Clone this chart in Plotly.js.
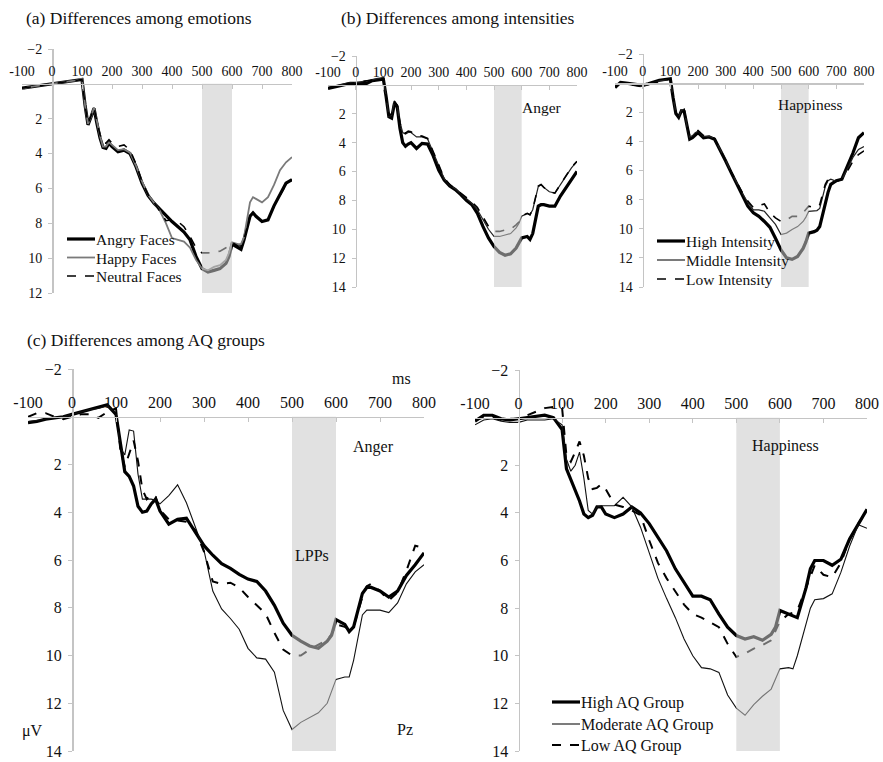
<!DOCTYPE html>
<html>
<head>
<meta charset="utf-8">
<script src="https://cdn.plot.ly/plotly-3.0.1.min.js"></script>
<style>html,body{margin:0;padding:0;background:#fff}#chart{width:883px;height:762px}</style>
</head>
<body>
<div id="chart"></div>
<script>
// ---------------- DATA ----------------
// time points (ms)
const timeMs = [-100,-80,-60,-40,-20,0,20,40,60,80,100,
  110,120,130,140,150,160,170,180,190,200,
  220,240,260,280,300,320,340,360,380,400,420,440,460,480,500,520,540,560,580,
  590,600,620,630,640,660,670,680,700,720,740,760,780,800];

const xTickVals = [-100,0,100,200,300,400,500,600,700,800];
const xTickText = ['-100','0','100','200','300','400','500','600','700','800'];
const yTickValsA = [-2,2,4,6,8,10,12];
const yTickValsB = [-2,2,4,6,8,10,12,14];
const lppWindow = [500, 600];

// (a) Differences among emotions
const emoNames = ['Angry Faces','Happy Faces','Neutral Faces'];
const angryFaces = [0.25,0.2,0.15,0.1,0.05,0.0,-0.05,-0.1,-0.15,-0.2,-0.25,
  1.2,2.35,1.9,1.4,2.3,3.1,3.65,3.7,3.4,3.6,
  3.9,3.8,4.0,4.75,5.7,6.4,6.85,7.2,7.6,7.9,8.2,8.5,8.95,9.9,10.6,10.8,10.7,10.6,10.3,
  9.9,9.2,9.4,9.5,8.95,7.6,7.4,7.6,7.9,7.8,7.0,6.3,5.7,5.5];
const happyFaces = [0.3,0.2,0.15,0.1,0.05,0.0,-0.05,-0.1,-0.15,-0.2,-0.3,
  1.2,2.3,1.9,1.35,2.2,3.0,3.6,3.6,3.35,3.5,
  3.8,3.75,3.95,4.7,5.6,6.35,6.8,7.3,8.0,8.85,8.95,9.05,9.4,10.1,10.6,10.7,10.5,10.4,10.1,
  9.7,9.1,9.2,9.2,8.8,6.8,6.5,6.6,6.8,6.5,5.8,4.95,4.5,4.2];
const neutralFaces = [0.25,0.2,0.15,0.1,0.05,0.0,-0.05,-0.1,-0.15,-0.2,-0.25,
  1.2,2.3,1.85,1.35,2.2,2.9,3.4,3.4,3.2,3.4,
  3.6,3.5,3.8,4.6,5.6,6.35,6.8,7.3,7.85,7.8,7.9,8.2,8.75,9.4,9.7,9.7,9.65,9.6,9.4,
  9.3,9.1,9.3,9.3,8.9,7.6,7.4,7.6,7.9,7.8,7.0,6.4,5.8,5.5];

// (b) Differences among intensities
const intNames = ['High Intensity','Middle Intensity','Low Intensity'];
const angerHigh = [0.25,0.15,0.05,-0.05,-0.1,-0.1,-0.1,-0.1,-0.3,-0.35,-0.4,
  0.8,2.2,2.3,1.3,1.5,3.0,4.0,4.25,4.1,4.0,
  4.4,4.05,4.1,4.9,5.9,6.6,7.0,7.25,7.6,8.0,8.3,8.9,9.8,10.6,11.2,11.6,11.8,11.7,11.3,
  11.0,10.6,10.5,10.7,10.3,8.4,8.3,8.3,8.4,8.4,7.7,7.15,6.6,6.0];
const angerMiddle = [0.2,0.1,0.0,-0.1,-0.15,-0.15,-0.2,-0.25,-0.35,-0.45,-0.5,
  0.8,2.2,2.1,1.1,1.4,2.6,3.3,3.4,3.3,3.3,
  3.6,3.6,3.75,4.7,5.65,6.5,6.95,7.2,7.55,7.85,8.2,8.65,9.35,10.0,10.5,10.5,10.4,10.3,9.9,
  9.6,9.1,8.9,9.0,8.65,7.05,6.9,7.1,7.4,7.5,6.9,6.35,5.75,5.3];
const angerLow = [0.2,0.1,0.05,-0.05,-0.1,-0.15,-0.2,-0.25,-0.3,-0.4,-0.45,
  0.8,2.15,2.0,1.15,1.4,2.6,3.25,3.35,3.2,3.25,
  3.5,3.55,3.7,4.6,5.6,6.45,6.9,7.2,7.5,7.8,8.1,8.5,9.2,9.8,10.15,10.15,10.05,10.0,9.7,
  9.5,9.1,8.9,9.0,8.6,7.0,6.9,7.1,7.4,7.5,6.9,6.3,5.7,5.3];
const happyHigh = [0.3,-0.05,0.0,0.05,0.05,0.15,0.05,-0.1,-0.2,-0.25,-0.3,
  1.0,2.1,2.35,1.9,1.95,3.05,3.85,3.75,3.55,3.4,
  3.75,3.7,3.85,4.55,5.35,6.15,6.95,7.75,8.45,8.9,9.15,9.5,9.9,10.65,11.45,12.0,12.1,11.9,11.35,
  10.9,10.3,10.2,10.1,9.85,8.25,7.5,6.95,6.7,6.6,5.7,4.8,3.75,3.4];
const happyMiddle = [0.2,0.0,0.05,0.1,0.1,0.2,0.1,-0.05,-0.15,-0.2,-0.3,
  1.0,2.0,2.35,1.85,1.8,2.95,3.7,3.6,3.4,3.3,
  3.65,3.65,3.8,4.5,5.3,6.1,6.85,7.55,8.2,8.7,8.7,8.8,9.25,9.7,10.4,10.3,10.05,9.85,9.5,
  9.2,8.8,8.8,8.75,8.6,7.1,6.7,6.6,6.75,6.6,5.9,5.1,4.55,4.35];
const happyLow = [0.25,0.0,0.05,0.1,0.15,0.25,0.1,0.0,-0.1,-0.2,-0.3,
  1.0,2.0,2.35,1.85,1.8,2.9,3.6,3.5,3.35,3.25,
  3.6,3.65,3.8,4.5,5.3,6.1,6.85,7.5,8.1,8.55,8.4,8.3,8.9,9.25,9.5,9.4,9.15,9.15,8.9,
  8.7,8.45,8.55,8.5,8.35,6.95,6.6,6.5,6.75,6.6,6.05,5.35,4.9,4.65];

// (c) Differences among AQ groups
const aqNames = ['High AQ Group','Moderate AQ Group','Low AQ Group'];
const aqAngerHigh = [0.25,0.2,0.1,0.05,0.0,-0.1,-0.2,-0.3,-0.4,-0.5,-0.1,
  1.15,2.3,2.5,2.9,3.75,4.0,3.95,3.65,3.45,3.95,
  4.5,4.3,4.25,4.85,5.4,5.8,6.15,6.35,6.6,6.8,6.9,7.3,7.9,8.65,9.15,9.4,9.6,9.7,9.4,
  9.15,8.5,8.7,9.0,8.8,7.4,7.15,7.15,7.3,7.55,7.3,6.65,6.2,5.7];
const aqAngerModerate = [0.2,0.15,0.1,0.05,0.0,-0.1,-0.2,-0.3,-0.35,-0.45,-0.15,
  1.3,1.6,0.55,0.6,2.4,3.45,3.45,3.45,3.5,3.65,
  3.3,2.85,3.6,4.6,5.6,7.3,8.05,8.45,8.9,9.7,10.1,10.15,10.7,12.3,13.1,12.8,12.6,12.4,12.0,
  11.5,11.0,10.9,10.9,10.2,8.3,8.1,8.1,8.1,8.2,7.8,7.0,6.5,6.2];
const aqAngerLow = [0.0,-0.15,-0.15,0.0,0.1,0.0,-0.1,-0.1,0.05,-0.2,-0.35,
  1.4,2.1,1.55,1.0,1.85,3.05,3.45,3.25,3.35,3.9,
  4.3,4.35,4.4,4.75,5.65,6.9,7.0,6.95,7.15,7.55,7.9,8.25,9.05,9.75,10.0,10.0,9.75,9.55,9.35,
  9.1,8.7,8.8,8.9,8.8,7.55,7.1,7.0,7.3,7.7,7.35,6.45,5.4,5.5];
const aqHappyHigh = [0.15,-0.1,-0.1,0.05,0.1,0.05,0.0,-0.05,-0.1,0.0,0.5,
  2.15,2.6,3.0,3.5,4.05,4.2,4.1,3.75,3.75,4.05,
  4.2,4.05,3.75,4.0,4.45,5.0,5.6,6.35,6.9,7.5,7.5,7.65,8.25,8.8,9.15,9.3,9.2,9.35,9.1,
  8.8,8.1,8.25,8.3,8.4,7.15,6.35,6.0,6.0,6.2,5.95,5.1,4.45,3.85];
const aqHappyModerate = [0.3,0.1,0.05,0.15,0.2,0.2,0.1,0.1,0.1,0.05,0.3,
  1.75,2.25,2.0,1.45,2.55,3.9,4.05,3.75,3.7,3.7,
  3.7,3.35,3.75,4.6,5.65,6.75,7.6,8.4,9.3,10.0,10.5,10.55,10.7,11.65,12.2,12.5,12.05,11.7,11.4,
  11.0,10.55,10.5,10.55,10.0,8.65,8.0,7.65,7.6,7.4,6.5,5.4,4.5,4.65];
const aqHappyLow = [0.1,0.0,0.0,0.1,0.05,0.05,-0.1,-0.25,-0.4,-0.45,-0.4,
  1.6,1.85,1.45,1.0,1.6,2.55,3.0,2.95,2.8,3.0,
  3.65,3.75,3.9,4.1,5.15,6.1,6.75,7.3,7.85,8.25,8.4,8.6,8.8,9.5,10.05,9.9,9.7,9.55,9.35,
  8.95,8.55,8.25,8.2,8.1,7.15,6.6,6.2,6.6,6.7,6.1,5.1,4.45,3.9];

// ---------------- LAYOUT HELPERS ----------------
const W = 883, H = 762;
const SERIF = 'Liberation Serif, Times New Roman, Times, serif';
const AXC = '#c4c4c4';
const fx = p => p / W;
const fy = p => 1 - p / H;

// panel boxes in pixels: left/right (x = -100 / 800), top/bottom (y = -2 / ymax)
const panels = [
  {k:'',  l:22,  r:292, t:49,  b:293, ymax:12, yt:yTickValsA, fs:14},
  {k:'2', l:328, r:577, t:56,  b:287, ymax:14, yt:yTickValsB, fs:14},
  {k:'3', l:615, r:864, t:54,  b:287, ymax:14, yt:yTickValsB, fs:14},
  {k:'4', l:28,  r:424, t:369, b:751, ymax:14, yt:yTickValsB, fs:16},
  {k:'5', l:475, r:867, t:370, b:751, ymax:14, yt:yTickValsB, fs:16}
];

const layout = {
  width: W, height: H,
  margin: {l:0, r:0, t:0, b:0, pad:0},
  paper_bgcolor: '#fff', plot_bgcolor: 'rgba(0,0,0,0)',
  font: {family: SERIF, color: '#111', size: 15},
  showlegend: false,
  shapes: [], annotations: []
};

panels.forEach(p => {
  const xd = [fx(p.l), fx(p.r)];
  const yd = [fy(p.b), fy(p.t)];
  const ymin = -2;
  const zeroFrac = yd[0] + (p.ymax - 0) / (p.ymax - ymin) * (yd[1] - yd[0]);
  const xmin = -100, xmax = 800;
  const x0Frac = xd[0] + (0 - xmin) / (xmax - xmin) * (xd[1] - xd[0]);
  layout['xaxis' + p.k] = {
    domain: xd, range: [xmin, xmax], anchor: 'free', position: zeroFrac, side: 'top',
    tickvals: xTickVals, ticktext: xTickText, ticks: 'inside', ticklen: 4, tickcolor: AXC,
    showline: true, linecolor: AXC, linewidth: 1.5, showgrid: false, zeroline: false,
    tickfont: {family: SERIF, size: p.fs, color: '#111'}, ticklabelstandoff: 2,
    ticklabeloverflow: 'allow', fixedrange: true
  };
  layout['yaxis' + p.k] = {
    domain: yd, range: [p.ymax, ymin], anchor: 'free', position: x0Frac, side: 'left',
    tickvals: p.yt, ticks: 'outside', ticklen: 4, tickcolor: AXC,
    showline: true, linecolor: AXC, linewidth: 1.5, showgrid: false, zeroline: false,
    tickfont: {family: SERIF, size: p.fs, color: '#111'}, ticklabelstandoff: 3,
    ticklabeloverflow: 'allow', fixedrange: true
  };
  layout.shapes.push({
    type: 'rect', xref: 'x' + p.k, yref: 'y' + p.k,
    x0: lppWindow[0], x1: lppWindow[1], y0: 0, y1: p.ymax,
    fillcolor: 'rgba(200,200,200,0.55)', line: {width: 0}, layer: 'above'
  });
});

// ---------------- TRACES ----------------
const sThick = {color: '#000', width: 3.2};
const sGray  = {color: '#7a7a7a', width: 1.8};
const sThin  = {color: '#222', width: 1.2};
const sDash  = {color: '#000', width: 1.6, dash: 'dash'};
const sMod   = {color: '#111', width: 1.1};
const sDash2 = {color: '#000', width: 2.0, dash: 'dash'};

function tr(y, name, ax, line) {
  return {x: timeMs, y: y, name: name, type: 'scatter', mode: 'lines',
    xaxis: 'x' + ax, yaxis: 'y' + ax, line: line, hoverinfo: 'skip'};
}

const data = [
  tr(angryFaces, emoNames[0], '', sThick),
  tr(happyFaces, emoNames[1], '', sGray),
  tr(neutralFaces, emoNames[2], '', sDash),
  tr(angerHigh, intNames[0], '2', sThick),
  tr(angerMiddle, intNames[1], '2', sThin),
  tr(angerLow, intNames[2], '2', sDash),
  tr(happyHigh, intNames[0], '3', sThick),
  tr(happyMiddle, intNames[1], '3', sThin),
  tr(happyLow, intNames[2], '3', sDash),
  tr(aqAngerHigh, aqNames[0], '4', sThick),
  tr(aqAngerModerate, aqNames[1], '4', sMod),
  tr(aqAngerLow, aqNames[2], '4', sDash2),
  tr(aqHappyHigh, aqNames[0], '5', sThick),
  tr(aqHappyModerate, aqNames[1], '5', sMod),
  tr(aqHappyLow, aqNames[2], '5', sDash2)
];

// hand-placed legends (line sample + label), pixel positions
function legend(names, styles, x1, x2, rows, size) {
  names.forEach((n, i) => {
    const st = styles[i];
    layout.shapes.push({type: 'line', xref: 'paper', yref: 'paper',
      x0: fx(x1), x1: fx(x2), y0: fy(rows[i]), y1: fy(rows[i]),
      line: {color: st.color, width: st.width, dash: st.dash || 'solid'}});
    layout.annotations.push({text: n, xref: 'paper', yref: 'paper',
      x: fx(x2 + 0.5), y: fy(rows[i] + 0.5), xanchor: 'left', yanchor: 'middle',
      showarrow: false, xshift: -2, font: {family: SERIF, size: size, color: '#111'}});
  });
}
legend(emoNames, [sThick, sGray, sDash], 67, 95, [239, 257.5, 276], 15.5);
legend(intNames, [sThick, sThin, sDash], 657, 685, [241, 260, 279], 15.5);
legend(aqNames, [sThick, sMod, sDash2], 552, 580, [702, 724, 745], 16);

// text labels
function lab(text, xp, yp, size, anchor) {
  return {text: text, xref: 'paper', yref: 'paper', x: fx(xp), y: fy(yp),
    xanchor: anchor || 'center', yanchor: 'middle', showarrow: false,
    font: {family: SERIF, size: size, color: '#111'}};
}
layout.annotations.push(
  lab('(a) Differences among emotions', 24, 18, 17.5, 'left'),
  lab('(b) Differences among intensities', 339, 18, 17.5, 'left'),
  lab('(c) Differences among AQ groups', 25, 340, 17.5, 'left'),
  lab('Anger', 542, 107, 15.5),
  lab('Happiness', 810, 105, 15.5),
  lab('ms', 401, 379, 16),
  lab('Anger', 373, 447, 16),
  lab('LPPs', 312, 555, 16),
  lab('μV', 32, 731, 16),
  lab('Pz', 405, 729, 16),
  lab('Happiness', 785, 446, 16)
);

Plotly.newPlot('chart', data, layout, {displayModeBar: false, staticPlot: true});
</script>
</body>
</html>
